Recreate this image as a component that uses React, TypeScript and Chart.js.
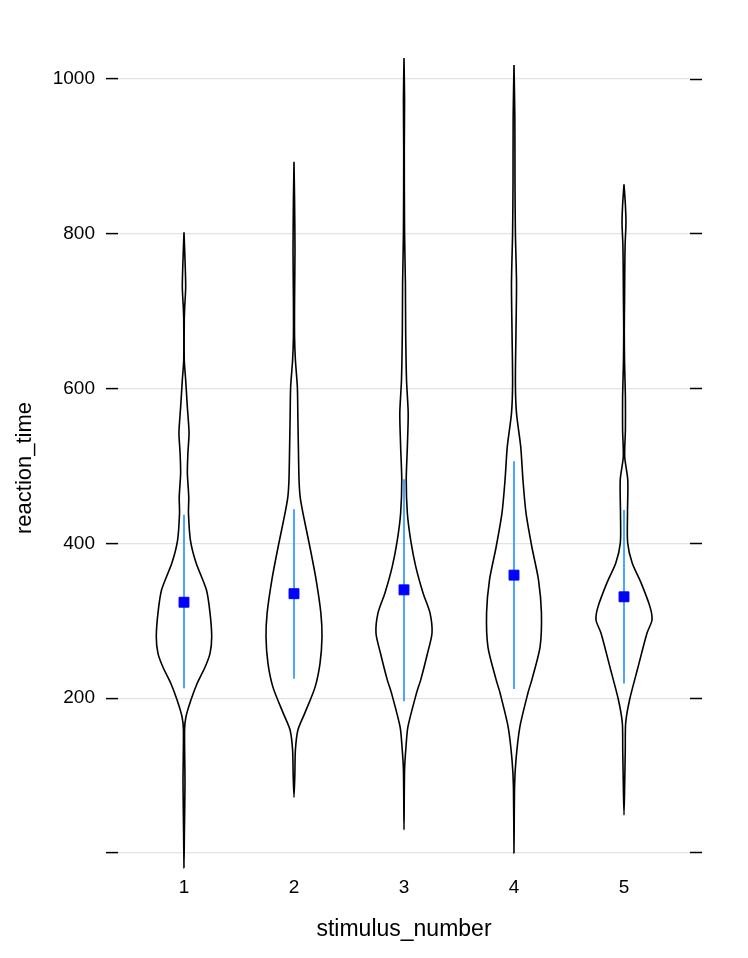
import React, { useEffect, useRef } from "react";
import { Chart, registerables } from "chart.js";

Chart.register(...registerables);

// ---- data ----
const categories = [1, 2, 3, 4, 5];
const meanRT = [324, 335, 340, 359, 331];
const sdLow = [213, 225, 196, 212, 219];
const sdHigh = [437, 444, 483, 506, 443];
const yTicks = [0, 200, 400, 600, 800, 1000];

// violin outlines: reaction_time values and relative density (1 = widest)
const violinRT1 = [802, 762, 731, 705, 689, 637, 611, 576, 543, 517, 491, 460, 439, 404, 375, 340, 310, 279, 258, 240, 220, 198, 176, 159, 90, 30, -19];
const violinDensity1 = [0, 0.04, 0.06, 0.025, 0.01, 0.01, 0.06, 0.12, 0.18, 0.14, 0.12, 0.17, 0.16, 0.23, 0.43, 0.8, 0.93, 0.99, 0.93, 0.75, 0.48, 0.25, 0.07, 0.02, 0.035, 0.015, 0];

const violinRT2 = [893, 844, 779, 714, 667, 637, 602, 559, 517, 482, 460, 439, 395, 353, 310, 279, 245, 214, 181, 159, 133, 101, 72];
const violinDensity2 = [0, 0.02, 0.035, 0.02, 0.02, 0.05, 0.12, 0.14, 0.16, 0.18, 0.22, 0.32, 0.57, 0.79, 0.96, 1.0, 0.93, 0.75, 0.39, 0.14, 0.05, 0.03, 0];

const violinRT3 = [1027, 973, 908, 801, 736, 672, 611, 568, 525, 482, 439, 404, 370, 336, 310, 284, 258, 224, 207, 163, 137, 107, 30];
const violinDensity3 = [0, 0.02, 0.01, 0.02, 0.05, 0.06, 0.09, 0.15, 0.12, 0.08, 0.12, 0.24, 0.42, 0.68, 0.93, 1.0, 0.84, 0.6, 0.45, 0.14, 0.07, 0.02, 0];

const violinRT4 = [1018, 951, 866, 801, 736, 672, 607, 568, 525, 482, 439, 395, 353, 310, 266, 224, 207, 163, 120, 85, 0];
const violinDensity4 = [0, 0.03, 0.035, 0.05, 0.09, 0.07, 0.05, 0.09, 0.24, 0.32, 0.43, 0.64, 0.875, 0.98, 0.93, 0.64, 0.5, 0.21, 0.07, 0.02, 0];

const violinRT5 = [864, 837, 814, 786, 762, 714, 676, 633, 589, 547, 512, 482, 439, 401, 375, 349, 318, 301, 284, 240, 198, 168, 133, 90, 49];
const violinDensity5 = [0, 0.05, 0.07, 0.04, 0.03, 0.02, 0.01, 0.02, 0.05, 0.05, 0.025, 0.135, 0.125, 0.13, 0.29, 0.61, 0.93, 1.0, 0.82, 0.5, 0.2, 0.06, 0.045, 0.025, 0];

const FONT = "'Liberation Sans', Arial, Helvetica, sans-serif";

export default function App() {
  const ref = useRef<HTMLCanvasElement>(null);

  useEffect(() => {
    if (!ref.current) return;
    const violins: [number[], number[]][] = [
      [violinRT1, violinDensity1],
      [violinRT2, violinDensity2],
      [violinRT3, violinDensity3],
      [violinRT4, violinDensity4],
      [violinRT5, violinDensity5],
    ];
    const maxHalfWidth = 0.2545;
    const datasets: any[] = [];

    violins.forEach(([rt, dens], i) => {
      const c = categories[i];
      const right = rt.map((v, j) => ({ x: c + dens[j] * maxHalfWidth, y: v }));
      const left = rt.map((v, j) => ({ x: c - dens[j] * maxHalfWidth, y: v })).reverse();
      datasets.push({
        data: [...right, ...left.slice(1)],
        borderColor: "#000000",
        borderWidth: 1.6,
        pointRadius: 0,
        tension: 0.25,
        fill: false,
        clip: false,
        order: 3,
      });
    });

    categories.forEach((c, i) => {
      datasets.push({
        data: [
          { x: c, y: sdLow[i] },
          { x: c, y: sdHigh[i] },
        ],
        borderColor: "#1e90ff",
        borderWidth: 1.6,
        pointRadius: 0,
        fill: false,
        order: 2,
      });
    });

    datasets.push({
      data: categories.map((c, i) => ({ x: c, y: meanRT[i] })),
      showLine: false,
      pointStyle: "rect",
      pointRadius: 7,
      pointBackgroundColor: "#0000ff",
      pointBorderColor: "#0000ff",
      pointBorderWidth: 1,
      order: 1,
    });

    const yMin = -29.72;
    const yMax = 1024.55;

    const chart = new Chart(ref.current, {
      type: "line",
      data: { datasets },
      options: {
        animation: false,
        responsive: false,
        events: [],
        layout: { padding: { top: 60, left: 0, right: 0, bottom: 0 } },
        plugins: { legend: { display: false }, tooltip: { enabled: false } },
        scales: {
          x: {
            type: "linear",
            min: 0.4,
            max: 5.6,
            afterBuildTicks: (scale: any) => {
              scale.ticks = categories.map((v) => ({ value: v }));
            },
            afterFit: (scale: any) => {
              scale.height = 82;
            },
            grid: { display: false, drawTicks: false },
            border: { display: false },
            ticks: {
              color: "#000000",
              padding: 0,
              font: { family: FONT, size: 19 },
              callback: (v: any) => String(v),
            },
            title: {
              display: true,
              text: "stimulus_number",
              color: "#000000",
              font: { family: FONT, size: 23 },
              padding: { top: 0, bottom: 15 },
            },
          },
          y: {
            type: "linear",
            position: "left",
            min: yMin,
            max: yMax,
            afterBuildTicks: (scale: any) => {
              scale.ticks = yTicks.map((v) => ({ value: v }));
            },
            afterFit: (scale: any) => {
              scale.width = 118;
            },
            grid: {
              color: "#e3e3e3",
              lineWidth: 1.2,
              drawTicks: true,
              tickLength: 12,
              tickColor: "#000000",
              tickWidth: 1.5,
            },
            border: { display: false },
            ticks: {
              color: "#000000",
              padding: 11,
              font: { family: FONT, size: 19 },
              callback: (v: any) => (v === 0 ? "" : String(v)),
            },
            title: {
              display: true,
              text: "reaction_time",
              color: "#000000",
              font: { family: FONT, size: 22 },
              padding: { top: 12, bottom: 0 },
            },
          },
          y2: {
            type: "linear",
            position: "right",
            min: yMin,
            max: yMax,
            afterBuildTicks: (scale: any) => {
              scale.ticks = yTicks.map((v) => ({ value: v }));
            },
            afterFit: (scale: any) => {
              scale.width = 58;
            },
            grid: {
              drawOnChartArea: false,
              drawTicks: true,
              tickLength: 12,
              tickColor: "#000000",
              tickWidth: 1.5,
            },
            border: { display: false },
            ticks: { display: false },
          },
        },
      } as any,
    });

    return () => chart.destroy();
  }, []);

  return (
    <div style={{ position: "absolute", left: 0, top: 0, width: 748, height: 958, background: "#ffffff" }}>
      <canvas ref={ref} width={748} height={958} style={{ display: "block" }} />
    </div>
  );
}
